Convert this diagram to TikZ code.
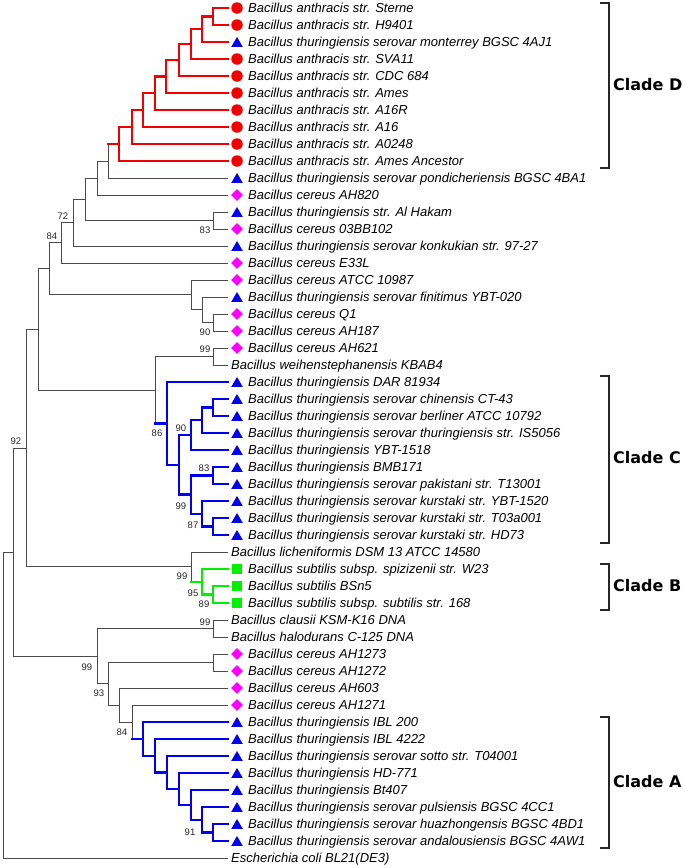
\documentclass[tikz,border=0pt]{standalone}
\usepackage{fontspec}
\setmainfont{Liberation Sans}
\newfontfamily\cladefont{DejaVu Sans}
\usetikzlibrary{shapes.geometric}

\definecolor{treegray}{HTML}{4A4A4A}
\definecolor{cred}{HTML}{F00000}
\definecolor{cblue}{HTML}{0000F0}
\definecolor{cmag}{HTML}{FF00FF}
\definecolor{cgreen}{HTML}{00F000}

\tikzset{
 gl/.style={draw=treegray, line width=0.9pt, line cap=rect},
 rl/.style={draw=cred, line width=2.3pt, line cap=rect},
 bl/.style={draw=cblue, line width=2.3pt, line cap=rect},
 vl/.style={draw=cgreen, line width=2.3pt, line cap=rect},
 mcirc/.style={circle, fill=cred, minimum size=11.5pt, inner sep=0pt},
 mtri/.style={regular polygon, regular polygon sides=3, fill=cblue, minimum size=13.3pt, inner sep=0pt, yshift=-1.6pt},
 mdia/.style={diamond, fill=cmag, minimum width=12pt, minimum height=12pt, inner sep=0pt},
 msq/.style={rectangle, fill=cgreen, minimum size=9.5pt, inner sep=0pt},
 leaftxt/.style={anchor=base west, inner sep=0pt, font=\fontsize{13}{15}\selectfont\itshape},
 boot/.style={anchor=base, inner sep=0pt, font=\fontsize{9.5}{11}\selectfont, text=black!85},
 cladelbl/.style={anchor=west, inner sep=0pt, font=\cladefont\bfseries\fontsize{16}{19}\selectfont},
 brk/.style={draw=black!85, line width=1.6pt},
}

% leaf with marker: id, y, marker style, text
\newcommand\leafm[4]{%
 \coordinate (L#1) at (228,#2);
 \node[#3] (M#1) at (237,#2) {};
 \node[leaftxt] (T#1) at (248,#2+4.5) {#4};}
% leaf without marker
\newcommand\leafn[3]{%
 \coordinate (L#1) at (228,#2);
 \node[leaftxt] (T#1) at (231,#2+4.5) {#3};}
% internal node: name, child1, child2, vertical style, h-style1, h-style2
\newcommand\kids[6]{%
 \draw[#4] (#1 |- #2) -- (#1 |- #3);
 \draw[#5] (#1 |- #2) -- (#2);
 \draw[#6] (#1 |- #3) -- (#3);}
% bootstrap label
\newcommand\bs[4]{\node[boot] (#1) at (#2,#3+3.3) {#4};}
% clade bracket: name, top, bottom, label y, text
\newcommand\clade[5]{%
 \coordinate (#1t) at (609,#2);
 \coordinate (#1b) at (609,#3);
 \draw[brk] ([xshift=-9pt]#1t) -- (#1t) -- (#1b) -- ([xshift=-9pt]#1b);
 \node[cladelbl] (#1l) at (613,#4) {#5};}

\begin{document}
\begin{tikzpicture}[x=1pt,y=-1pt]
\useasboundingbox (0,0) rectangle (685,868);

% ---------------- internal nodes ----------------
\coordinate (r1) at (213,16.5);
\coordinate (r2) at (202,29.25);
\coordinate (r3) at (191,44.1);
\coordinate (r4) at (179,60.1);
\coordinate (r5) at (166,76.5);
\coordinate (r6) at (155,93.3);
\coordinate (r7) at (143,110.1);
\coordinate (r8) at (132,127.1);
\coordinate (r9) at (119,144);
\coordinate (g1) at (108,161);
\coordinate (g2) at (97,178);
\coordinate (g3) at (213,220.5);
\coordinate (g4) at (85,199.3);
\coordinate (g5) at (73,222.6);
\coordinate (g6) at (61,242.8);
\coordinate (g7) at (213,322.5);
\coordinate (g8) at (202,309.75);
\coordinate (g9) at (191,294.9);
\coordinate (g10) at (49,268.8);
\coordinate (g11) at (213,356.5);
\coordinate (c1) at (213,407.5);
\coordinate (c2) at (202,420.25);
\coordinate (c3) at (191,435.1);
\coordinate (c4) at (213,475.5);
\coordinate (c5) at (213,526.5);
\coordinate (c6) at (202,513.75);
\coordinate (c7) at (191,494.6);
\coordinate (c8) at (179,464.9);
\coordinate (c9) at (167,423.4);
\coordinate (g12) at (155,390);
\coordinate (g13) at (38,329.4);
\coordinate (b1) at (213,594.5);
\coordinate (b2) at (202,581.75);
\coordinate (g14) at (191,566.9);
\coordinate (g15) at (26,448.1);
\coordinate (g16) at (213,628.5);
\coordinate (g17) at (213,662.5);
\coordinate (a1) at (213,832.5);
\coordinate (a2) at (202,819.75);
\coordinate (a3) at (191,804.9);
\coordinate (a4) at (179,788.9);
\coordinate (a5) at (167,772.5);
\coordinate (a6) at (155,755.7);
\coordinate (a7) at (143,738.9);
\coordinate (g18) at (132,722);
\coordinate (g19) at (119,705);
\coordinate (g20) at (108,683.7);
\coordinate (g21) at (97,656);
\coordinate (g22) at (13,552);
\coordinate (root) at (3,705);

% leaf end coordinates
\foreach \i/\y in {1/8,2/25,3/42,4/59,5/76,6/93,7/110,8/127,9/144,10/161,11/178,12/195,13/212,14/229,15/246,16/263,17/280,18/297,19/314,20/331,21/348,22/365,23/382,24/399,25/416,26/433,27/450,28/467,29/484,30/501,31/518,32/535,33/552,34/569,35/586,36/603,37/620,38/637,39/654,40/671,41/688,42/705,43/722,44/739,45/756,46/773,47/790,48/807,49/824,50/841,51/858}
  {\coordinate (L\i) at (228,\y);}

% ---------------- branches (gray first) ----------------
\kids{g1}{r9}{L11}{gl}{rl}{gl}
\kids{g2}{g1}{L12}{gl}{gl}{gl}
\kids{g3}{L13}{L14}{gl}{gl}{gl}
\kids{g4}{g2}{g3}{gl}{gl}{gl}
\kids{g5}{g4}{L15}{gl}{gl}{gl}
\kids{g6}{g5}{L16}{gl}{gl}{gl}
\kids{g7}{L19}{L20}{gl}{gl}{gl}
\kids{g8}{L18}{g7}{gl}{gl}{gl}
\kids{g9}{L17}{g8}{gl}{gl}{gl}
\kids{g10}{g6}{g9}{gl}{gl}{gl}
\kids{g11}{L21}{L22}{gl}{gl}{gl}
\kids{g12}{g11}{c9}{gl}{gl}{bl}
\kids{g13}{g10}{g12}{gl}{gl}{gl}
\kids{g14}{L33}{b2}{gl}{gl}{vl}
\kids{g15}{g13}{g14}{gl}{gl}{gl}
\kids{g16}{L37}{L38}{gl}{gl}{gl}
\kids{g17}{L39}{L40}{gl}{gl}{gl}
\kids{g18}{L42}{a7}{gl}{gl}{bl}
\kids{g19}{L41}{g18}{gl}{gl}{gl}
\kids{g20}{g17}{g19}{gl}{gl}{gl}
\kids{g21}{g16}{g20}{gl}{gl}{gl}
\kids{g22}{g15}{g21}{gl}{gl}{gl}
\kids{root}{g22}{L51}{gl}{gl}{gl}

% Clade D (red)
\kids{r1}{L1}{L2}{rl}{rl}{rl}
\kids{r2}{r1}{L3}{rl}{rl}{rl}
\kids{r3}{r2}{L4}{rl}{rl}{rl}
\kids{r4}{r3}{L5}{rl}{rl}{rl}
\kids{r5}{r4}{L6}{rl}{rl}{rl}
\kids{r6}{r5}{L7}{rl}{rl}{rl}
\kids{r7}{r6}{L8}{rl}{rl}{rl}
\kids{r8}{r7}{L9}{rl}{rl}{rl}
\kids{r9}{r8}{L10}{rl}{rl}{rl}

% Clade C (blue)
\kids{c1}{L24}{L25}{bl}{bl}{bl}
\kids{c2}{c1}{L26}{bl}{bl}{bl}
\kids{c3}{c2}{L27}{bl}{bl}{bl}
\kids{c4}{L28}{L29}{bl}{bl}{bl}
\kids{c5}{L31}{L32}{bl}{bl}{bl}
\kids{c6}{L30}{c5}{bl}{bl}{bl}
\kids{c7}{c4}{c6}{bl}{bl}{bl}
\kids{c8}{c3}{c7}{bl}{bl}{bl}
\kids{c9}{L23}{c8}{bl}{bl}{bl}

% Clade B (green)
\kids{b1}{L35}{L36}{vl}{vl}{vl}
\kids{b2}{L34}{b1}{vl}{vl}{vl}

% Clade A (blue)
\kids{a1}{L49}{L50}{bl}{bl}{bl}
\kids{a2}{L48}{a1}{bl}{bl}{bl}
\kids{a3}{L47}{a2}{bl}{bl}{bl}
\kids{a4}{L46}{a3}{bl}{bl}{bl}
\kids{a5}{L45}{a4}{bl}{bl}{bl}
\kids{a6}{L44}{a5}{bl}{bl}{bl}
\kids{a7}{L43}{a6}{bl}{bl}{bl}

% ---------------- leaves (markers and names) ----------------
\leafm{1}{8}{mcirc}{Bacillus anthracis str. Sterne}
\leafm{2}{25}{mcirc}{Bacillus anthracis str. H9401}
\leafm{3}{42}{mtri}{Bacillus thuringiensis serovar monterrey BGSC 4AJ1}
\leafm{4}{59}{mcirc}{Bacillus anthracis str. SVA11}
\leafm{5}{76}{mcirc}{Bacillus anthracis str. CDC 684}
\leafm{6}{93}{mcirc}{Bacillus anthracis str. Ames}
\leafm{7}{110}{mcirc}{Bacillus anthracis str. A16R}
\leafm{8}{127}{mcirc}{Bacillus anthracis str. A16}
\leafm{9}{144}{mcirc}{Bacillus anthracis str. A0248}
\leafm{10}{161}{mcirc}{Bacillus anthracis str. Ames Ancestor}
\leafm{11}{178}{mtri}{Bacillus thuringiensis serovar pondicheriensis BGSC 4BA1}
\leafm{12}{195}{mdia}{Bacillus cereus AH820}
\leafm{13}{212}{mtri}{Bacillus thuringiensis str. Al Hakam}
\leafm{14}{229}{mdia}{Bacillus cereus 03BB102}
\leafm{15}{246}{mtri}{Bacillus thuringiensis serovar konkukian str. 97-27}
\leafm{16}{263}{mdia}{Bacillus cereus E33L}
\leafm{17}{280}{mdia}{Bacillus cereus ATCC 10987}
\leafm{18}{297}{mtri}{Bacillus thuringiensis serovar finitimus YBT-020}
\leafm{19}{314}{mdia}{Bacillus cereus Q1}
\leafm{20}{331}{mdia}{Bacillus cereus AH187}
\leafm{21}{348}{mdia}{Bacillus cereus AH621}
\leafn{22}{365}{Bacillus weihenstephanensis KBAB4}
\leafm{23}{382}{mtri}{Bacillus thuringiensis DAR 81934}
\leafm{24}{399}{mtri}{Bacillus thuringiensis serovar chinensis CT-43}
\leafm{25}{416}{mtri}{Bacillus thuringiensis serovar berliner ATCC 10792}
\leafm{26}{433}{mtri}{Bacillus thuringiensis serovar thuringiensis str. IS5056}
\leafm{27}{450}{mtri}{Bacillus thuringiensis YBT-1518}
\leafm{28}{467}{mtri}{Bacillus thuringiensis BMB171}
\leafm{29}{484}{mtri}{Bacillus thuringiensis serovar pakistani str. T13001}
\leafm{30}{501}{mtri}{Bacillus thuringiensis serovar kurstaki str. YBT-1520}
\leafm{31}{518}{mtri}{Bacillus thuringiensis serovar kurstaki str. T03a001}
\leafm{32}{535}{mtri}{Bacillus thuringiensis serovar kurstaki str. HD73}
\leafn{33}{552}{Bacillus licheniformis DSM 13 ATCC 14580}
\leafm{34}{569}{msq}{Bacillus subtilis subsp. spizizenii str. W23}
\leafm{35}{586}{msq}{Bacillus subtilis BSn5}
\leafm{36}{603}{msq}{Bacillus subtilis subsp. subtilis str. 168}
\leafn{37}{620}{Bacillus clausii KSM-K16 DNA}
\leafn{38}{637}{Bacillus halodurans C-125 DNA}
\leafm{39}{654}{mdia}{Bacillus cereus AH1273}
\leafm{40}{671}{mdia}{Bacillus cereus AH1272}
\leafm{41}{688}{mdia}{Bacillus cereus AH603}
\leafm{42}{705}{mdia}{Bacillus cereus AH1271}
\leafm{43}{722}{mtri}{Bacillus thuringiensis IBL 200}
\leafm{44}{739}{mtri}{Bacillus thuringiensis IBL 4222}
\leafm{45}{756}{mtri}{Bacillus thuringiensis serovar sotto str. T04001}
\leafm{46}{773}{mtri}{Bacillus thuringiensis HD-771}
\leafm{47}{790}{mtri}{Bacillus thuringiensis Bt407}
\leafm{48}{807}{mtri}{Bacillus thuringiensis serovar pulsiensis BGSC 4CC1}
\leafm{49}{824}{mtri}{Bacillus thuringiensis serovar huazhongensis BGSC 4BD1}
\leafm{50}{841}{mtri}{Bacillus thuringiensis serovar andalousiensis BGSC 4AW1}
\leafn{51}{858}{Escherichia coli BL21(DE3)}

% ---------------- bootstrap values ----------------
\bs{s1}{63}{216}{72}
\bs{s2}{52}{236}{84}
\bs{s3}{205}{230}{83}
\bs{s4}{205}{332}{90}
\bs{s5}{205}{349}{99}
\bs{s6}{157}{433}{86}
\bs{s7}{181}{428}{90}
\bs{s8}{204}{468}{83}
\bs{s9}{181}{506}{99}
\bs{s10}{193}{525}{87}
\bs{s11}{16}{441}{92}
\bs{s12}{182}{576}{99}
\bs{s13}{193}{593}{95}
\bs{s14}{204}{604}{89}
\bs{s15}{205}{622}{99}
\bs{s16}{87}{667}{99}
\bs{s17}{99}{693}{93}
\bs{s18}{122}{732}{84}
\bs{s19}{190}{832}{91}

% ---------------- clade brackets ----------------
\clade{kD}{3}{168}{85}{Clade D}
\clade{kC}{376}{543}{458}{Clade C}
\clade{kB}{564}{610}{586}{Clade B}
\clade{kA}{717}{848}{782}{Clade A}
\end{tikzpicture}
\end{document}
